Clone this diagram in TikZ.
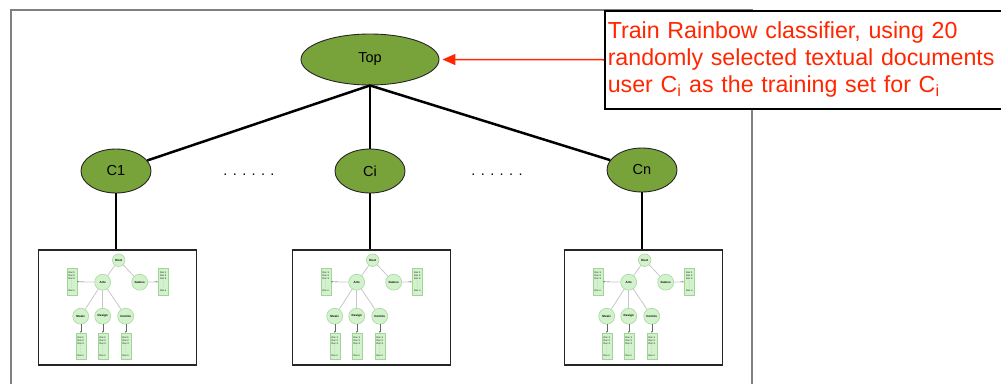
\documentclass[tikz,border=0pt]{standalone}
\usepackage{fontspec}
\setmainfont{Liberation Sans}
\usetikzlibrary{shapes.geometric,arrows.meta}
\definecolor{leafgreen}{RGB}{120,163,58}
\definecolor{paleleaf}{RGB}{210,242,204}
\definecolor{paleedge}{RGB}{160,212,152}
\definecolor{notered}{RGB}{255,38,0}
\begin{document}
\begin{tikzpicture}[x=1pt,y=-1pt,
  cat/.style={ellipse,draw=black!85,line width=0.9pt,fill=leafgreen,inner sep=0pt,font=\fontsize{14.5}{16}\selectfont},
  link/.style={line width=2.5pt,black},
  treebox/.style={draw=black!85,line width=1.6pt,minimum width=158pt,minimum height=115pt,inner sep=0pt},
  tnode/.style={circle,draw=paleedge,fill=paleleaf,line width=0.5pt,inner sep=0pt,minimum size=16pt,font=\fontsize{3}{3.5}\selectfont\bfseries},
  tdocs/.style={rectangle,draw=paleedge,fill=paleleaf,line width=0.4pt,inner sep=0pt,minimum width=10pt,minimum height=27pt,align=center,font=\fontsize{2.4}{3}\selectfont},
  tline/.style={draw=black!22,line width=0.8pt},
  tarrow/.style={draw=black!60,line width=0.3pt,-{Latex[length=1.6pt,width=1.3pt]}}]
\clip (0,0) rectangle (1001,383);
\draw[black!50,line width=1.3pt] (11,10) rectangle (752,400);
\node[cat,minimum width=138pt,minimum height=51pt] (top) at (370,59.5) {Top};
\node[cat,minimum width=70pt,minimum height=44pt] (c1) at (116,171) {C1};
\node[cat,minimum width=70pt,minimum height=44pt] (ci) at (370,171) {Ci};
\node[cat,minimum width=70pt,minimum height=44pt] (cn) at (642,170) {Cn};
\node[font=\fontsize{14.5}{16}\selectfont] (dotsa) at (249,175) {. . . . . .};
\node[font=\fontsize{14.5}{16}\selectfont] (dotsb) at (497,175) {. . . . . .};
\draw[link] (top.south) -- (c1);
\draw[link] (top.south) -- (ci);
\draw[link] (top.south) -- (cn);
\node[treebox] (box1) at (117.5,307.5) {};
\node[treebox] (box2) at (371.5,307.5) {};
\node[treebox] (box3) at (643.5,307.5) {};
\draw[link] (c1) -- (c1 |- box1.north);
\draw[link] (ci) -- (ci |- box2.north);
\draw[link] (cn) -- (cn |- box3.north);
\foreach \b in {box1,box2,box3}{
  \begin{scope}[shift={(\b.north west)}]
    \node[tnode,minimum size=12.6pt] (\b-root) at (81,11) {Root};
    \node[tnode] (\b-arts) at (65,33) {Arts};
    \node[tnode] (\b-games) at (102,33) {Games};
    \node[tnode] (\b-music) at (43,67) {Music};
    \node[tnode] (\b-design) at (65,67) {Design};
    \node[tnode] (\b-comics) at (88,67) {Comics};
    \node[tdocs] (\b-docl) at (34,32.5) {Doc 1\\Doc 2\\Doc 3\\:\\:\\:\\Doc n};
    \node[tdocs] (\b-docr) at (125.5,32.5) {Doc 1\\Doc 2\\Doc 3\\:\\:\\:\\Doc n};
    \node[tdocs,minimum height=26pt] (\b-docm) at (43,97) {Doc 1\\Doc 2\\Doc 3\\:\\:\\:\\Doc n};
    \node[tdocs,minimum height=26pt] (\b-docd) at (65,97) {Doc 1\\Doc 2\\Doc 3\\:\\:\\:\\Doc n};
    \node[tdocs,minimum height=26pt] (\b-docc) at (88,97) {Doc 1\\Doc 2\\Doc 3\\:\\:\\:\\Doc n};
    \draw[tline] (\b-root) -- (\b-arts);
    \draw[tline] (\b-root) -- (\b-games);
    \draw[tline] (\b-arts) -- (\b-music);
    \draw[tline] (\b-arts) -- (\b-design);
    \draw[tline] (\b-arts) -- (\b-comics);
    \draw[tarrow] (\b-arts) -- (\b-docl);
    \draw[tarrow] (\b-games) -- (\b-docr);
    \draw[tarrow] (\b-music) -- (\b-docm);
    \draw[tarrow] (\b-design) -- (\b-docd);
    \draw[tarrow] (\b-comics) -- (\b-docc);
  \end{scope}
}
\node[draw=black,line width=1.5pt,fill=white,anchor=north west,minimum height=98pt,text width=420pt,inner sep=3pt,align=left,text=notered,font=\fontsize{23.2}{27}\selectfont] (note) at (604,10) {Train Rainbow classifier, using 20\\randomly selected textual documents\\user C\textsubscript{i} as the training set for C\textsubscript{i}};
\draw[notered,line width=1.5pt,-{Triangle[length=13pt,width=11pt]},shorten >=3pt] (note.west) -- (top.east);
\end{tikzpicture}
\end{document}
